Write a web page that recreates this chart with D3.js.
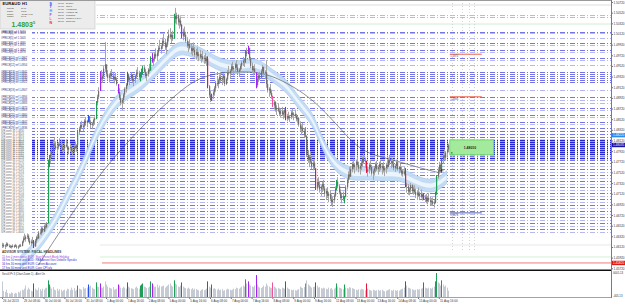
<!DOCTYPE html>
<html>
<head>
<meta charset="utf-8">
<script src="https://cdn.jsdelivr.net/npm/d3@7"></script>
<style>
  html, body { margin: 0; padding: 0; background: #fff; }
  svg { display: block; font-family: "Liberation Sans", Arial, sans-serif; }
</style>
</head>
<body>
<div id="chart"></div>
<script>
// chart size
var svgWidth = 625;
var svgHeight = 305;

// prices are kept in pips above 1.4500
var pipBase = 1.45;
var pip = 0.0001;

// H1 candles, EURAUD
var highs = [
  120,119,117,121,120,117,116,115,117,116,118,116,115,117,118,124,
  132,138,134,140,136,129,126,131,125,127,133,136,142,146,150,149,
  154,157,159,276,285,290,300,312,318,310,304,309,316,313,305,300,
  308,314,306,301,306,303,298,304,310,305,332,338,345,349,344,352,
  356,351,360,358,350,347,353,357,386,398,412,442,444,438,452,497,
  451,444,438,442,446,440,434,439,430,414,410,398,392,401,412,420,
  441,438,432,440,437,430,436,445,450,443,440,447,452,454,446,440,
  448,456,470,476,468,478,485,480,490,501,492,505,512,503,496,508,
  520,523,514,518,550,561,552,549,541,545,530,522,526,516,506,498,
  502,494,490,496,488,484,487,479,482,475,480,472,476,470,470,416,
  405,400,408,414,424,432,428,436,441,434,438,432,430,444,452,446,
  456,460,452,458,463,455,448,456,462,469,466,482,486,490,484,469,
  458,452,455,436,431,438,441,446,454,451,444,463,424,412,418,406,
  396,388,386,378,382,374,372,375,368,371,375,362,366,360,368,372,
  365,370,362,358,356,348,340,345,335,337,322,294,285,290,280,274,
  276,256,240,243,236,228,234,238,226,222,224,215,219,210,206,214,
  226,238,243,230,220,212,216,208,228,242,254,262,264,272,278,270,
  276,281,272,268,275,283,288,280,270,262,270,275,266,258,264,271,
  274,266,272,275,268,272,264,270,276,280,285,278,279,274,268,276,
  272,264,268,262,258,262,260,232,230,224,232,230,224,228,222,218,
  224,216,220,214,213,210,212,208,213,206,204,205,200,216,247,262,
  272,270,278,288,294,292,300,306
];
var lows = [
  110,111,108,112,113,111,110,109,111,110,112,109,108,111,112,113,
  119,125,122,127,121,116,114,118,110,112,120,126,127,135,134,139,
  140,145,147,159,262,270,279,289,300,294,288,295,301,296,290,287,
  293,299,292,286,292,289,284,287,296,291,302,322,330,334,330,336,
  340,337,346,343,335,333,339,342,352,378,390,418,424,420,428,440,
  432,426,421,427,430,423,419,424,415,400,388,378,369,382,393,402,
  415,422,416,424,421,414,420,428,434,426,423,430,436,438,429,424,
  432,440,448,458,452,460,466,462,471,480,475,484,492,482,474,488,
  498,502,495,499,508,532,530,528,522,526,504,500,506,495,486,478,
  483,474,471,477,469,464,468,461,465,458,462,456,457,452,410,392,
  384,386,390,396,404,414,410,418,422,416,420,414,416,424,434,428,
  438,442,434,440,444,437,431,439,446,452,450,458,470,474,462,448,
  438,434,437,410,412,422,425,428,437,434,427,411,402,394,398,390,
  375,370,366,360,365,358,356,358,352,355,350,348,351,347,352,357,
  350,354,348,344,338,330,322,326,318,318,281,270,262,268,258,256,
  258,219,218,224,214,208,215,218,206,200,204,196,198,190,187,194,
  206,218,222,211,200,194,198,194,205,220,232,240,244,252,258,250,
  256,262,252,248,256,262,268,260,251,244,250,256,246,238,246,252,
  255,248,253,256,248,252,245,250,258,262,266,260,262,256,253,258,
  255,250,252,246,244,246,224,214,210,209,214,212,210,212,204,200,
  206,200,203,199,200,196,194,192,196,190,189,190,186,194,210,240,
  250,252,254,268,276,274,282,290
];
var closes = [
  116,113,115,118,114,113,112,114,112,115,113,111,113,115,114,122,
  128,127,131,133,124,119,122,120,113,124,130,128,139,138,147,141,
  151,149,156,272,280,286,292,306,302,297,300,305,303,299,294,297,
  304,301,295,298,300,292,290,301,298,303,328,334,341,337,340,349,
  345,349,357,346,341,344,350,354,383,394,405,430,428,433,447,455,
  437,430,434,438,433,427,431,426,418,403,392,383,388,398,409,417,
  436,426,429,436,424,427,433,440,438,431,437,444,449,441,433,437,
  445,443,466,462,465,474,470,477,486,484,489,499,496,487,492,504,
  511,506,510,503,546,540,547,534,537,529,508,516,510,499,490,493,
  486,480,485,482,473,478,471,474,468,470,465,467,461,466,414,397,
  388,398,402,410,420,418,425,431,426,429,434,418,427,440,438,443,
  451,446,448,455,449,441,445,452,458,462,464,479,475,486,466,452,
  444,447,440,416,428,434,430,442,450,438,440,418,406,409,401,395,
  378,384,370,373,368,362,367,361,364,369,353,358,354,356,364,360,
  362,358,352,354,342,334,336,330,322,320,285,276,281,272,263,270,
  260,222,234,228,220,225,230,222,212,217,208,212,202,196,200,209,
  222,235,226,215,204,208,202,206,224,238,248,244,258,268,262,266,
  272,266,259,264,270,279,272,274,253,258,266,262,250,254,260,267,
  258,262,268,260,264,256,260,266,262,275,270,273,268,260,264,271,
  258,262,256,250,254,249,228,226,216,220,228,217,220,215,210,214,
  208,212,206,210,202,205,198,204,200,196,198,193,196,213,244,256,
  266,258,276,284,280,289,295,303
];
var volumes = [
  1500,600,500,700,400,350,300,450,380,320,400,350,500,420,600,700,
  650,800,1100,700,900,750,600,550,1300,800,700,650,900,750,600,800,
  700,850,900,1600,1200,1000,800,950,700,650,800,600,750,700,550,650,
  700,600,800,750,650,900,700,850,600,700,1100,800,750,700,950,800,
  850,900,1200,1000,1100,900,800,750,1400,1000,950,1300,900,850,1000,1500,
  1200,1000,900,850,800,950,700,750,800,1200,1100,900,850,1000,900,800,
  1400,1000,900,850,800,750,900,1000,850,800,1100,1200,1300,1000,950,850,
  900,1000,1500,1300,1100,950,1000,1200,900,1100,1000,1050,1100,900,1000,1100,
  1200,1300,1100,1000,1600,1300,1200,1000,950,1100,1400,1000,900,850,800,900,
  800,750,850,700,800,750,700,650,600,700,750,650,700,800,1500,1000,
  900,1200,800,850,750,700,800,650,700,750,600,650,700,800,750,700,
  650,700,800,750,900,850,800,900,1000,1100,1000,1700,1300,1500,1200,1100,
  1000,950,1100,2100,1200,1000,900,850,950,1100,1000,1300,1100,1000,900,850,
  1400,1000,900,800,850,800,750,900,850,800,1500,900,800,750,700,650,
  700,650,600,700,750,1000,900,850,950,1300,1600,1200,1100,1000,900,950,
  1000,1400,1100,900,950,850,800,900,850,800,750,900,800,850,700,800,
  900,1300,1000,900,850,800,750,1200,900,850,800,950,900,850,800,750,
  700,650,750,700,800,750,700,650,1300,800,700,650,600,700,650,600,
  650,700,600,650,700,600,550,600,650,700,750,650,600,700,650,600,
  650,600,700,750,800,900,1500,1100,900,850,800,750,700,650,700,750,
  700,750,800,850,1400,900,850,800,900,850,800,900,1000,1500,2300,1400,
  1300,1100,1600,1200,1000,1100,900,600
];

// bars painted by the volume indicator
var redBars = [24, 158, 218, 241, 280, 310];
var greenBars = [35, 36, 58, 72, 106, 107, 108, 114, 132, 187, 257, 263, 333, 334, 338];
var blueBars = [66, 96];
var purpleBars = [75, 89, 115, 138, 161, 189, 195, 324];
var pinkBars = [208, 233];

// fast moving average channel (mid line)
var bandBars = [14, 24, 32, 42, 50, 58, 65, 70, 83, 96, 106, 122, 132, 139, 152, 162, 170, 181, 191, 198, 208, 219, 229, 239, 245, 255, 268, 281, 293, 306, 319, 332, 342];
var bandMid = [83, 106, 129, 166, 206, 243, 279, 313, 373, 403, 414, 454, 480, 488, 476, 461, 452, 448, 454, 452, 433, 416, 379, 354, 313, 266, 247, 251, 247, 251, 232, 223, 243];
var bandHalf = 12;

// slow moving average
var slowBars = [28, 35, 60, 85, 114, 132, 145, 158, 175, 193, 206, 219, 232, 245, 260, 275, 291, 306, 322, 337];
var slowMid = [78, 105, 198, 279, 354, 394, 420, 435, 441, 441, 435, 420, 401, 375, 335, 294, 281, 272, 260, 251];

// support / resistance levels drawn by the EA
var levelPips = [548,544,516,514,505,495,491,482,478,467,463,454,441,437,433,430,426,422,407,394,388,383,373,369,360,356,347,343,336,330,324,319,313,309,306,302,298,294,291,287,283,279,276,270,264,259,253,247,242,236,230,225,219,214,208,202,197,191,185,180,174,168,163,157,152,146,140];
var levelStrength = [1,1,2,1,1,2,1,2,1,2,1,1,2,2,2,2,2,2,1,2,1,1,2,1,2,1,2,1,2,2,2,2,3,3,3,3,3,3,3,3,2,3,2,2,1,2,1,2,1,2,1,2,1,2,1,2,1,2,1,2,1,2,1,2,1,2,1];

// other horizontal lines
var topGrayPrice = 1.50664;
var topGreenPrice = 1.50307;
var lowGrayPrice = 1.46157;
var lowGreenPrice = 1.45932;
var alertPrice = 1.4582;
var targetPrices = [1.4974, 1.4894];
var stopPrice = 1.4676;
var zoneTop = 1.4813;
var zoneBottom = 1.4785;
var zoneText = "1.48010";
var askPrice = 1.4822;
var bidPrice = 1.48035;
var crossBar = 338;
var crossPrice = 1.4755;
var futureBars = [346, 354, 359, 363];

// axis ticks
var priceTicks = [1.5072,1.5052,1.5032,1.5012,1.4992,1.4972,1.4952,1.4932,1.4912,1.4892,1.4872,1.4852,1.4832,1.4812,1.4792,1.4772,1.4752,1.4732,1.4712,1.4692,1.4672,1.4652,1.4632,1.4612,1.4592,1.4572];
var timeLabels = ["26 Jul 2013","29 Jul 08:00","30 Jul 00:00","30 Jul 16:00","31 Jul 08:00","1 Aug 00:00","1 Aug 16:00","2 Aug 08:00","5 Aug 00:00","5 Aug 16:00","6 Aug 08:00","7 Aug 00:00","7 Aug 16:00","8 Aug 08:00","9 Aug 00:00","9 Aug 16:00","12 Aug 08:00","13 Aug 00:00","13 Aug 16:00","14 Aug 08:00","15 Aug 00:00","15 Aug 16:00"];
var volTicks = ["0005.13", "-405.13"];

// info panel
var symbolName = "EURAUD";
var periodName = "H1";
var infoLabels = ["Spread", "Range", "Swaps", "Candle"];
var infoValues = ["11.00", "103.2", "-10.88 | 1.75", "00:49"];
var bigPrice = "1.4803";
var bigPriceLast = "5";
var sessionLetters = ["S", "T", "H", "F", "L", "N"];
var sessionTimes = ["07:00", "09:00", "09:00", "15:00", "15:00", "16:00", "21:00"];
var sessionNames = ["Sydney", "Tokyo", "Hongkong", "Helsinki (B)", "Frankfurt", "London (L,D,F)", "NewYork"];

// news block
var newsTitle = "ADVISOR SYSTEM: FISCAL HEADLINES";
var headlines = [
  "15 hrs 0 mins since EUR: Start French Bank Holiday",
  "16 hrs 50 mins until AUD: RBA Assist Gov Debelle Speaks",
  "16 hrs 30 mins until EUR: Current Account",
  "17 hrs 30 mins until EUR: Core CPI y/y"
];
var indicatorName = "SessV-Pr 3 (Chart Zoom 1) - Alert On";

// ==============================
var svg = d3.select("#chart")
  .append("svg")
  .attr("width", svgWidth)
  .attr("height", svgHeight);

svg.append("rect").attr("width", svgWidth).attr("height", svgHeight).attr("fill", "#fff");

var plotRight = 611;
var plotBottom = 268;
var panelBottom = 29;

function px(v) { return pipBase + v * pip; }

var xBar = d3.scaleLinear()
  .domain([0, highs.length - 1])
  .range([2, 2 + (highs.length - 1) * 1.3]);

var yPrice = d3.scaleLinear()
  .domain([1.45725, 1.50758])
  .range([plotBottom, 0]);

var yVol = d3.scaleLinear()
  .domain([0, 2400])
  .range([297, 272]);

svg.append("clipPath").attr("id", "plotClip")
  .append("rect").attr("x", 0).attr("y", 0).attr("width", plotRight).attr("height", 269);

var chartGroup = svg.append("g").attr("clip-path", "url(#plotClip)");

// Step 1: plain horizontal lines
chartGroup.append("line").attr("x1", 96).attr("x2", plotRight)
  .attr("y1", yPrice(topGrayPrice)).attr("y2", yPrice(topGrayPrice))
  .attr("stroke", "#d4d4dc").attr("stroke-width", 0.8);
chartGroup.append("line").attr("x1", 96).attr("x2", plotRight)
  .attr("y1", yPrice(topGreenPrice)).attr("y2", yPrice(topGreenPrice))
  .attr("stroke", "#c4ecc4").attr("stroke-width", 0.8);
chartGroup.append("line").attr("x1", 100).attr("x2", plotRight)
  .attr("y1", yPrice(lowGrayPrice)).attr("y2", yPrice(lowGrayPrice))
  .attr("stroke", "#e2e2e8").attr("stroke-width", 0.8);
chartGroup.append("line").attr("x1", 100).attr("x2", plotRight)
  .attr("y1", yPrice(lowGreenPrice)).attr("y2", yPrice(lowGreenPrice))
  .attr("stroke", "#c8eec8").attr("stroke-width", 0.8);
chartGroup.append("line").attr("x1", 102).attr("x2", plotRight)
  .attr("y1", yPrice(alertPrice)).attr("y2", yPrice(alertPrice))
  .attr("stroke", "#f07c7c").attr("stroke-width", 1);

// Step 2: dash-dot level lines
var levelColors = {1: "#b8b8f0", 2: "#7474e4", 3: "#2626d8"};
chartGroup.selectAll(".level")
  .data(levelPips)
  .enter()
  .append("line")
  .attr("class", "level")
  .attr("x1", 0)
  .attr("x2", plotRight)
  .attr("y1", function(d) { return Math.round(yPrice(px(d))) + 0.5; })
  .attr("y2", function(d) { return Math.round(yPrice(px(d))) + 0.5; })
  .attr("stroke", function(d, i) { return levelColors[levelStrength[i]]; })
  .attr("stroke-width", function(d, i) { return levelStrength[i] == 3 ? 1.3 : 1; })
  .attr("stroke-dasharray", "5,2,1,2");

// future time markers
chartGroup.selectAll(".vmark")
  .data(futureBars)
  .enter()
  .append("line")
  .attr("x1", function(d) { return Math.round(xBar(d)) + 0.5; })
  .attr("x2", function(d) { return Math.round(xBar(d)) + 0.5; })
  .attr("y1", 0)
  .attr("y2", 250)
  .attr("stroke", "#c8c8c8")
  .attr("stroke-width", 0.8)
  .attr("stroke-dasharray", "1,2");

// Step 3: moving average channel
var bandData = bandBars.map(function(b, i) { return {bar: b, mid: bandMid[i]}; });
var outerArea = d3.area()
  .x(function(d) { return xBar(d.bar); })
  .y0(function(d) { return yPrice(px(d.mid - bandHalf)); })
  .y1(function(d) { return yPrice(px(d.mid + bandHalf)); })
  .curve(d3.curveBasis);
var innerArea = d3.area()
  .x(function(d) { return xBar(d.bar); })
  .y0(function(d) { return yPrice(px(d.mid - 4)); })
  .y1(function(d) { return yPrice(px(d.mid + 4)); })
  .curve(d3.curveBasis);
chartGroup.append("path").datum(bandData).attr("d", outerArea)
  .attr("fill", "#c2dcf4").attr("stroke", "#9fc4ea").attr("stroke-width", 0.6).attr("opacity", 0.95);
chartGroup.append("path").datum(bandData).attr("d", innerArea)
  .attr("fill", "#ecf5fd");

// slow average
var slowData = slowBars.map(function(b, i) { return {bar: b, v: slowMid[i]}; });
chartGroup.append("path").datum(slowData)
  .attr("d", d3.line()
    .x(function(d) { return xBar(d.bar); })
    .y(function(d) { return yPrice(px(d.v)); })
    .curve(d3.curveBasis))
  .attr("fill", "none")
  .attr("stroke", "#444")
  .attr("stroke-width", 0.6);

// Step 4: candles
var colorCodes = {red: "#e3173e", green: "#1f9f55", blue: "#2452ee", purple: "#a324ee", pink: "#f24f9d"};
var barColor = {};
redBars.forEach(function(b) { barColor[b] = colorCodes.red; });
greenBars.forEach(function(b) { barColor[b] = colorCodes.green; });
blueBars.forEach(function(b) { barColor[b] = colorCodes.blue; });
purpleBars.forEach(function(b) { barColor[b] = colorCodes.purple; });
pinkBars.forEach(function(b) { barColor[b] = colorCodes.pink; });

var candles = highs.map(function(h, i) {
  return {
    i: i,
    h: px(h),
    l: px(lows[i]),
    o: px(i > 0 ? closes[i - 1] : closes[0]),
    c: px(closes[i]),
    col: barColor[i]
  };
});

chartGroup.selectAll(".wick")
  .data(candles)
  .enter()
  .append("line")
  .attr("x1", function(d) { return Math.round(xBar(d.i)) + 0.5; })
  .attr("x2", function(d) { return Math.round(xBar(d.i)) + 0.5; })
  .attr("y1", function(d) { return yPrice(d.h); })
  .attr("y2", function(d) { return yPrice(d.l); })
  .attr("stroke", function(d) { return d.col || "#a6a6a6"; })
  .attr("stroke-width", 1);

chartGroup.selectAll(".body")
  .data(candles)
  .enter()
  .append("rect")
  .attr("x", function(d) { return Math.round(xBar(d.i)); })
  .attr("width", 1.2)
  .attr("y", function(d) { return yPrice(Math.max(d.o, d.c)); })
  .attr("height", function(d) { return Math.max(1, Math.abs(yPrice(d.o) - yPrice(d.c))); })
  .attr("fill", function(d) { return d.col || "#707070"; });

// Step 5: trade objects on the right
chartGroup.append("rect")
  .attr("x", xBar(futureBars[0]) - 2)
  .attr("y", yPrice(zoneTop))
  .attr("width", 44)
  .attr("height", yPrice(zoneBottom) - yPrice(zoneTop))
  .attr("fill", "#a4ea9c")
  .attr("stroke", "#5cd65c")
  .attr("stroke-width", 0.8);
chartGroup.append("text")
  .attr("x", xBar(futureBars[0]) + 12)
  .attr("y", yPrice((zoneTop + zoneBottom) / 2) + 1.2)
  .attr("font-size", "3.4px")
  .attr("font-weight", "bold")
  .attr("fill", "#202020")
  .text(zoneText);
chartGroup.append("circle")
  .attr("cx", xBar(futureBars[0])).attr("cy", yPrice(zoneBottom) - 2)
  .attr("r", 0.9).attr("fill", "#22b022");

chartGroup.selectAll(".target")
  .data(targetPrices)
  .enter()
  .append("line")
  .attr("x1", xBar(futureBars[0]) - 2)
  .attr("x2", xBar(futureBars[0]) + 30)
  .attr("y1", function(d) { return yPrice(d); })
  .attr("y2", function(d) { return yPrice(d); })
  .attr("stroke", "#f0604a")
  .attr("stroke-width", 1);
chartGroup.selectAll(".targetText")
  .data(targetPrices)
  .enter()
  .append("text")
  .attr("x", xBar(futureBars[0]) - 1.5)
  .attr("y", function(d) { return yPrice(d) + 3.2; })
  .attr("font-size", "2.6px")
  .attr("fill", "#4a4a7a")
  .text(function(d) { return d.toFixed(4); });

chartGroup.append("line")
  .attr("x1", xBar(futureBars[0]) - 2)
  .attr("x2", xBar(futureBars[0]) + 30)
  .attr("y1", yPrice(stopPrice))
  .attr("y2", yPrice(stopPrice))
  .attr("stroke", "#4452a8")
  .attr("stroke-width", 0.9);
chartGroup.append("text")
  .attr("x", xBar(futureBars[0]) - 1.5)
  .attr("y", yPrice(stopPrice) + 3.2)
  .attr("font-size", "2.6px")
  .attr("fill", "#4a4a7a")
  .text(stopPrice.toFixed(4));

// small cross on the last swing
var cx = xBar(crossBar), cy = yPrice(crossPrice);
chartGroup.append("path")
  .attr("d", "M" + (cx - 2) + "," + cy + "H" + (cx + 2) + "M" + cx + "," + (cy - 2) + "V" + (cy + 2))
  .attr("stroke", "#111").attr("stroke-width", 0.6);

// Step 6: level labels on the left (the ones under the info panel stay hidden)
var labelled = levelPips
  .map(function(d, i) { return {v: d, n: i + 1}; })
  .filter(function(d) { return yPrice(px(d.v)) > panelBottom + 2; });
var labelGroup = chartGroup.append("g");
labelGroup.selectAll("rect")
  .data(labelled)
  .enter()
  .append("rect")
  .attr("x", 0)
  .attr("y", function(d) { return yPrice(px(d.v)) - 1.6; })
  .attr("width", 32)
  .attr("height", 3)
  .attr("fill", "#fff");
labelGroup.selectAll("text")
  .data(labelled)
  .enter()
  .append("text")
  .attr("x", 1)
  .attr("y", function(d) { return yPrice(px(d.v)) + 1; })
  .attr("font-size", "2.6px")
  .attr("fill", function(d) { return d.v > 330 ? "#30307a" : "#6a6a6a"; })
  .text(function(d) {
    return (d.v > 330 ? "#PRICE[" + d.n + "] ref " : "S/R zone " + d.n + " ") + px(d.v).toFixed(4);
  });

// Step 7: info panel
var info = svg.append("g");
info.append("rect").attr("x", 0).attr("y", 0).attr("width", 95).attr("height", panelBottom)
  .attr("fill", "#ececec").attr("stroke", "#c6c6c6").attr("stroke-width", 0.6);
info.append("text").attr("x", 2.5).attr("y", 5.2).attr("font-size", "4.2px").attr("font-weight", "bold")
  .attr("fill", "#111").text(symbolName);
info.append("text").attr("x", 22).attr("y", 5.2).attr("font-size", "4.2px").attr("font-weight", "bold")
  .attr("fill", "#111").text(periodName);
info.selectAll(".ilab")
  .data(infoLabels)
  .enter()
  .append("text")
  .attr("x", 7)
  .attr("y", function(d, i) { return 9.3 + i * 2.6; })
  .attr("font-size", "2.1px")
  .attr("fill", "#333")
  .text(function(d) { return d; });
info.selectAll(".ival")
  .data(infoValues)
  .enter()
  .append("text")
  .attr("x", 21)
  .attr("y", function(d, i) { return 9.3 + i * 2.6; })
  .attr("font-size", "2.1px")
  .attr("fill", "#333")
  .text(function(d) { return d; });
info.append("text").attr("x", 11.5).attr("y", 27.3).attr("font-size", "7px").attr("font-weight", "bold")
  .attr("fill", "#2f9f2f").text(bigPrice);
info.append("text").attr("x", 33).attr("y", 23.5).attr("font-size", "4px").attr("font-weight", "bold")
  .attr("fill", "#2f9f2f").text(bigPriceLast);

var letterColors = ["#2244ff", "#2244ff", "#3a8cff", "#a040e0", "#ff7a1a", "#ee2020"];
info.selectAll(".slet")
  .data(sessionLetters)
  .enter()
  .append("text")
  .attr("x", 49.5)
  .attr("y", function(d, i) { return 4.5 + i * 3.9; })
  .attr("font-size", "3.6px")
  .attr("font-weight", "bold")
  .attr("fill", function(d, i) { return letterColors[i]; })
  .text(function(d) { return d; });
info.selectAll(".stime")
  .data(sessionTimes)
  .enter()
  .append("text")
  .attr("x", 58)
  .attr("y", function(d, i) { return 3.6 + i * 3.1; })
  .attr("font-size", "2.3px")
  .attr("fill", "#333")
  .text(function(d) { return d; });
info.selectAll(".sname")
  .data(sessionNames)
  .enter()
  .append("text")
  .attr("x", 66)
  .attr("y", function(d, i) { return 3.6 + i * 3.1; })
  .attr("font-size", "2.3px")
  .attr("fill", "#333")
  .text(function(d) { return d; });

// Step 8: news block
svg.append("text").attr("x", 2).attr("y", 253.3).attr("font-size", "3.1px").attr("font-weight", "bold")
  .attr("fill", "#3a3a3a").text(newsTitle);
var newsColors = ["#9b48d8", "#3636cf", "#2a2ac4", "#2a2ac4"];
svg.selectAll(".news")
  .data(headlines)
  .enter()
  .append("text")
  .attr("x", 2)
  .attr("y", function(d, i) { return 257.8 + i * 3.6; })
  .attr("font-size", "2.9px")
  .attr("fill", function(d, i) { return newsColors[i]; })
  .text(function(d) { return d; });

// Step 9: volume panel
svg.append("line").attr("x1", 0).attr("x2", plotRight).attr("y1", 270.2).attr("y2", 270.2)
  .attr("stroke", "#111").attr("stroke-width", 1.4);
svg.selectAll(".vol")
  .data(volumes)
  .enter()
  .append("rect")
  .attr("x", function(d, i) { return Math.round(xBar(i)); })
  .attr("width", 1)
  .attr("y", function(d) { return yVol(d); })
  .attr("height", function(d) { return 297 - yVol(d); })
  .attr("fill", function(d, i) { return barColor[i] || "#c6cad2"; });
svg.append("text").attr("x", 2).attr("y", 275).attr("font-size", "2.6px").attr("fill", "#333")
  .text(indicatorName);
svg.append("text").attr("x", 613).attr("y", 274.2).attr("font-size", "2.8px").attr("fill", "#333").text(volTicks[0]);
svg.append("text").attr("x", 613).attr("y", 296.8).attr("font-size", "2.8px").attr("fill", "#333").text(volTicks[1]);

// Step 10: frame and axes
svg.append("line").attr("x1", 0).attr("x2", plotRight).attr("y1", 0.5).attr("y2", 0.5)
  .attr("stroke", "#9a9a9a").attr("stroke-width", 1);
svg.append("line").attr("x1", plotRight + 0.5).attr("x2", plotRight + 0.5).attr("y1", 0).attr("y2", 298)
  .attr("stroke", "#7a7a7a").attr("stroke-width", 1);
svg.append("line").attr("x1", 0).attr("x2", plotRight).attr("y1", 297.5).attr("y2", 297.5)
  .attr("stroke", "#8a8a8a").attr("stroke-width", 0.8);

var priceAxis = d3.axisRight(yPrice)
  .tickValues(priceTicks)
  .tickSize(1.5)
  .tickPadding(0.4)
  .tickFormat(d3.format(".5f"));
var gPrice = svg.append("g").attr("transform", "translate(" + (plotRight + 0.5) + ",0)").call(priceAxis);
gPrice.select(".domain").remove();
gPrice.selectAll("line").attr("stroke", "#777");
gPrice.selectAll("text").attr("font-size", "3.1px").attr("fill", "#333").attr("font-family", "Liberation Sans, Arial, sans-serif");

// current price markers on the axis
var marks = [
  {p: askPrice, fill: "#2a8cf0"},
  {p: bidPrice, fill: "#1414a8"},
  {p: alertPrice, fill: "#e01818"}
];
svg.selectAll(".pmark")
  .data(marks)
  .enter()
  .append("rect")
  .attr("x", plotRight + 1)
  .attr("y", function(d) { return yPrice(d.p) - 2.2; })
  .attr("width", 13)
  .attr("height", 4.4)
  .attr("fill", function(d) { return d.fill; });
svg.selectAll(".ptext")
  .data(marks)
  .enter()
  .append("text")
  .attr("x", plotRight + 2)
  .attr("y", function(d) { return yPrice(d.p) + 1.1; })
  .attr("font-size", "3.1px")
  .attr("fill", "#fff")
  .text(function(d) { return d.p.toFixed(5); });

var labelBars = timeLabels.map(function(d, i) { return i * 16; });
var timeAxis = d3.axisBottom(xBar)
  .tickValues(labelBars)
  .tickSize(1.5)
  .tickPadding(0.8)
  .tickFormat(function(d, i) { return timeLabels[i]; });
var gTime = svg.append("g").attr("transform", "translate(0,297.5)").call(timeAxis);
gTime.select(".domain").remove();
gTime.selectAll("line").attr("stroke", "#777");
gTime.selectAll("text")
  .attr("text-anchor", "start")
  .attr("dx", "0.6")
  .attr("font-size", "3px")
  .attr("fill", "#333")
  .attr("font-family", "Liberation Sans, Arial, sans-serif");
</script>
</body>
</html>
